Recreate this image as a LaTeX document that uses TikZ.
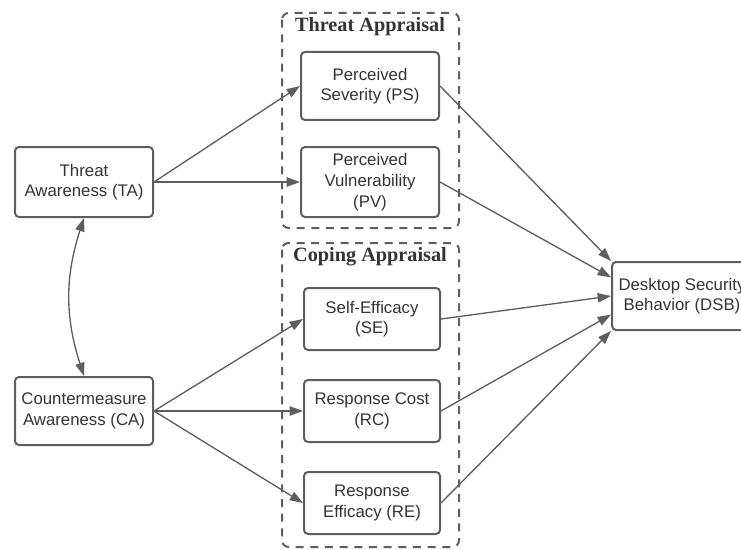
\documentclass[tikz,border=0pt]{standalone}
\usepackage{fontspec}
\setmainfont{Liberation Sans}
\newfontfamily\titlefont{Liberation Serif}
\usetikzlibrary{arrows.meta}
\definecolor{linegray}{HTML}{5E5E5E}
\definecolor{textgray}{HTML}{333333}
\begin{document}
\begin{tikzpicture}[x=0.75pt,y=-0.75pt,
  box/.style={draw=linegray, line width=1.5pt, rounded corners=3pt, align=center, text=textgray,
    font=\fontsize{12.6}{15.5}\selectfont, inner sep=0pt},
  group/.style={draw=linegray, line width=1.5pt, rounded corners=5pt, dash pattern=on 6pt off 5pt},
  grouptitle/.style={text=textgray, font=\titlefont\bfseries\fontsize{15.2}{18}\selectfont, inner sep=0pt},
  tip/.style={Triangle[length=10pt,width=7pt]},
  link/.style={draw=linegray, line width=1pt, -{Triangle[length=10pt,width=7pt]}}]
\useasboundingbox (0,0) rectangle (741,549);
\draw[group] (282,13) rectangle (459,228);
\draw[group] (282,243) rectangle (459,547);
\node[grouptitle] (threattitle) at (370,27) {Threat Appraisal};
\node[grouptitle] (copingtitle) at (370,257) {Coping Appraisal};
\node[box, minimum width=103.5pt, minimum height=52.5pt] (TA) at (84,182) {Threat\\Awareness (TA)};
\node[box, minimum width=103.5pt, minimum height=51pt] (CA) at (84,411) {Countermeasure\\Awareness (CA)};
\node[box, minimum width=103.5pt, minimum height=51pt] (PS) at (370,86) {Perceived\\Severity (PS)};
\node[box, minimum width=103.5pt, minimum height=52.5pt] (PV) at (370,182) {Perceived\\Vulnerability\\(PV)};
\node[box, minimum width=102pt, minimum height=46.5pt] (SE) at (372,319) {Self-Efficacy\\(SE)};
\node[box, minimum width=102pt, minimum height=46.5pt] (RC) at (372,411) {Response Cost\\(RC)};
\node[box, minimum width=102pt, minimum height=46.5pt] (RE) at (372,503) {Response\\Efficacy (RE)};
\node[box, minimum width=105pt, minimum height=51pt] (DSB) at (682,296) {Desktop Security\\Behavior (DSB)};
\draw[link] (TA.east) -- (PS.west);
\draw[link] (TA.east) -- (PV.west);
\draw[link] (CA.east) -- (SE.west);
\draw[link] (CA.east) -- (RC.west);
\draw[link] (CA.east) -- (RE.west);
\draw[link] (PS.east) -- (DSB.north west);
\draw[link] (PV.east) -- ([yshift=14pt]DSB.west);
\draw[link] (SE.east) -- ([yshift=0pt]DSB.west);
\draw[link] (RC.east) -- ([yshift=-14pt]DSB.west);
\draw[link] (RE.east) -- (DSB.south west);
\draw[link, {Triangle[length=10pt,width=7pt]}-{Triangle[length=10pt,width=7pt]}] (TA.south) to[bend right=18] (CA.north);
\end{tikzpicture}
\end{document}
